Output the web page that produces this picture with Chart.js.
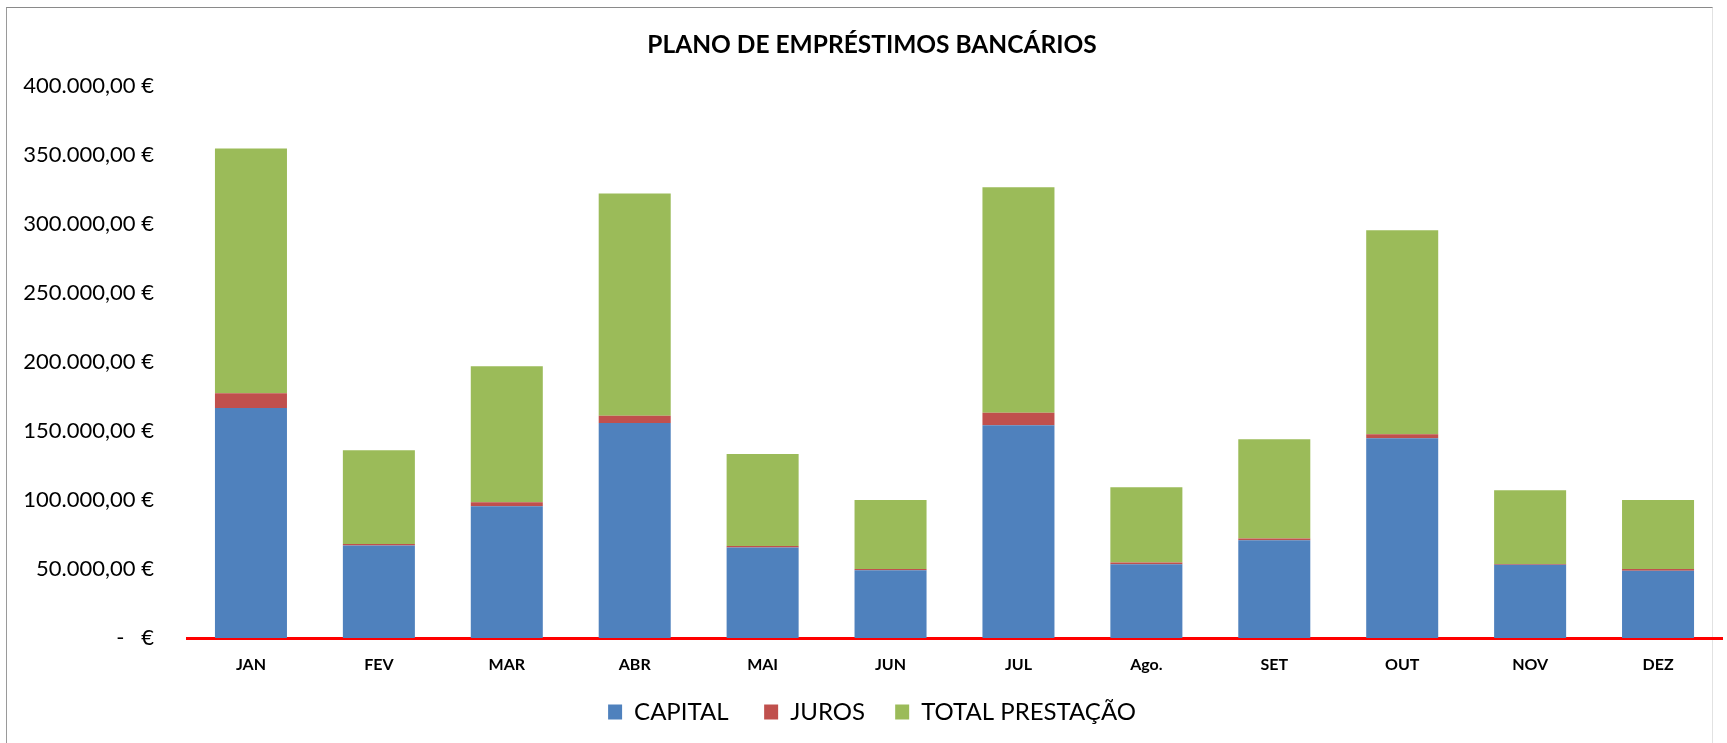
<!DOCTYPE html>
<html lang="pt">
<head>
<meta charset="utf-8">
<title>Plano de Empréstimos Bancários</title>
<script src="https://cdn.jsdelivr.net/npm/chart.js@4.4.1/dist/chart.umd.min.js"></script>
<style>
    html, body { margin: 0; padding: 0; background: #fff; overflow: hidden; }
    #frame {
        position: absolute; left: 6px; top: 7px; width: 1705px; height: 760px;
        border-top: 1px solid #8a8a8a; border-left: 1px solid #9a9a9a; border-right: 1px solid #e2e2e2;
    }
    #wrap { position: absolute; left: 0; top: 0; width: 1727px; height: 743px; }
</style>
</head>
<body>
<div id="frame"></div>
<div id="wrap"><canvas id="loanChart"></canvas></div>
<script>
// Months (as written on the chart)
const months = ['JAN', 'FEV', 'MAR', 'ABR', 'MAI', 'JUN', 'JUL', 'Ago.', 'SET', 'OUT', 'NOV', 'DEZ'];

// Values (euros)
const capital = [166700, 67000, 95600, 156000, 65700, 49100, 154300, 53400, 70800, 144900, 53100, 48800];
const juros = [10800, 1100, 2900, 5200, 1000, 900, 9100, 1300, 1300, 2900, 500, 1200];
const totalPrestacao = [177500, 68100, 98500, 161200, 66700, 50000, 163400, 54700, 72100, 147800, 53600, 50000];

// Y axis ticks
const yMax = 400000;
const yStep = 50000;

function formatEuro(value) {
    if (value === 0) {
        return '-\u00a0\u00a0\u00a0€';
    }
    const parts = value.toFixed(2).split('.');
    const intPart = parts[0].replace(/\B(?=(\d{3})+(?!\d))/g, '.');
    return intPart + ',' + parts[1] + '\u00a0€';
}

const ctx = document.getElementById('loanChart');

new Chart(ctx, {
    type: 'bar',
    data: {
        labels: months,
        datasets: [{
            label: 'CAPITAL',
            data: capital,
            backgroundColor: '#4F81BD'
        }, {
            label: 'JUROS',
            data: juros,
            backgroundColor: '#C0504D'
        }, {
            label: 'TOTAL PRESTAÇÃO',
            data: totalPrestacao,
            backgroundColor: '#9BBB59'
        }]
    },
    options: {
        responsive: true,
        maintainAspectRatio: false,
        animation: false,
        categoryPercentage: 1.0,
        barPercentage: 0.563,
        layout: {
            padding: { left: 22, right: 5, top: 0, bottom: 9 }
        },
        plugins: {
            title: {
                display: true,
                text: 'PLANO DE EMPRÉSTIMOS BANCÁRIOS',
                color: '#000',
                font: { family: 'Lato', size: 24.5, weight: 'bold', lineHeight: 1.2 },
                padding: { top: 30, bottom: 27 }
            },
            legend: {
                display: true,
                position: 'bottom',
                labels: {
                    color: '#000',
                    boxWidth: 14,
                    boxHeight: 15,
                    padding: 24,
                    font: { family: 'Lato', size: 24 },
                    generateLabels: function(chart) {
                        const items = Chart.defaults.plugins.legend.labels.generateLabels(chart);
                        // a bit more room after the first two entries
                        items[0].text = items[0].text + '\u00a0\u00a0';
                        items[1].text = items[1].text + '\u00a0';
                        return items;
                    }
                }
            },
            tooltip: { enabled: false }
        },
        scales: {
            x: {
                stacked: true,
                grid: { display: false, drawTicks: false },
                border: { display: true, color: '#FF0000', width: 3 },
                afterFit: function(scale) {
                    scale.height = 38;
                },
                ticks: {
                    color: '#000',
                    padding: 26,
                    font: { family: 'Lato', size: 16, weight: 'bold', lineHeight: '1px' }
                }
            },
            y: {
                stacked: true,
                min: 0,
                max: yMax,
                grid: { display: false },
                border: { display: false },
                afterFit: function(scale) {
                    scale.width = 165;
                },
                ticks: {
                    stepSize: yStep,
                    color: '#000',
                    padding: 25,
                    font: { family: 'Lato', size: 22 },
                    callback: function(value) {
                        return formatEuro(value);
                    }
                }
            }
        }
    }
});
</script>
</body>
</html>
